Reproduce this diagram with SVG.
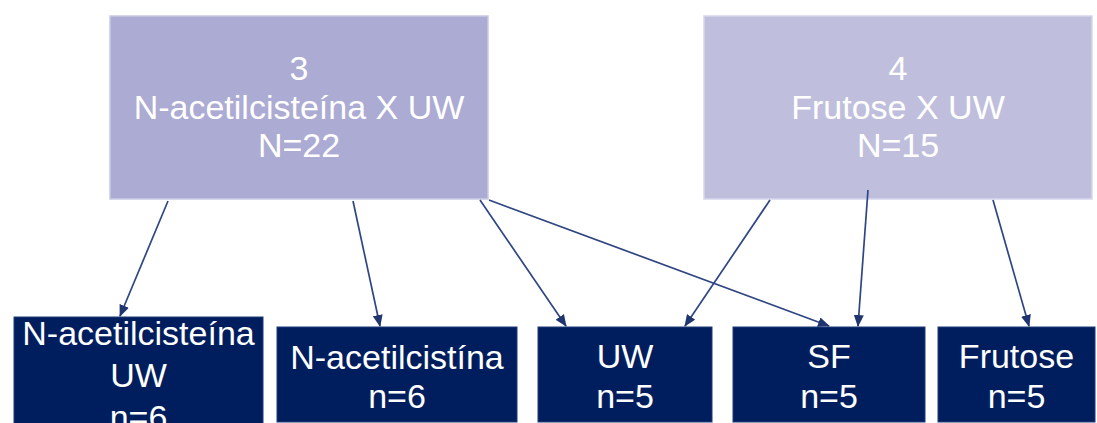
<svg xmlns="http://www.w3.org/2000/svg" width="1097" height="423" viewBox="0 0 1097 423">
<style>
.t{font-family:"Liberation Sans",Arial,sans-serif;font-size:34px;fill:#ffffff;text-anchor:middle}
.top1{fill:#ACABD3;stroke:#C9C9E4;stroke-width:1.5}
.top2{fill:#BFBFDD;stroke:#D6D6EC;stroke-width:1.5}
.bot{fill:#001E5E;stroke:#1E3A78;stroke-width:1}
.c{stroke:#2F4683;stroke-width:1.7;fill:none;marker-end:url(#ah)}
</style>
<defs>
<marker id="ah" viewBox="0 0 12 10" refX="11" refY="5" markerWidth="12" markerHeight="10" markerUnits="userSpaceOnUse" orient="auto">
<path d="M0,0 L12,5 L0,10 z" fill="#1E3570"/>
</marker>
</defs>
<rect width="1097" height="423" fill="#ffffff"/>
<g id="node-top-nac">
<rect class="top1" x="110" y="16" width="378" height="183"/>
<text class="t" x="299" y="80">3</text>
<text class="t" x="299" y="119">N-acetilcisteína X UW</text>
<text class="t" x="299" y="157">N=22</text>
</g>
<g id="node-top-frutose">
<rect class="top2" x="704" y="16" width="388" height="183"/>
<text class="t" x="898" y="80">4</text>
<text class="t" x="898" y="119">Frutose X UW</text>
<text class="t" x="898" y="157">N=15</text>
</g>
<g id="node-nac-uw">
<rect class="bot" x="14" y="317" width="249" height="120"/>
<text class="t" x="138.5" y="345">N-acetilcisteína</text>
<text class="t" x="138.5" y="387">UW</text>
<text class="t" x="138.5" y="429">n=6</text>
</g>
<g id="node-nac">
<rect class="bot" x="277" y="327" width="240" height="95"/>
<text class="t" x="397" y="369">N-acetilcistína</text>
<text class="t" x="397" y="408">n=6</text>
</g>
<g id="node-uw">
<rect class="bot" x="538" y="327" width="174" height="95"/>
<text class="t" x="625" y="368">UW</text>
<text class="t" x="625" y="408">n=5</text>
</g>
<g id="node-sf">
<rect class="bot" x="733" y="327" width="192" height="95"/>
<text class="t" x="829" y="368">SF</text>
<text class="t" x="829" y="408">n=5</text>
</g>
<g id="node-frutose">
<rect class="bot" x="938" y="327" width="157" height="95"/>
<text class="t" x="1016.5" y="368">Frutose</text>
<text class="t" x="1016.5" y="408">n=5</text>
</g>
<g id="connectors">
<line class="c" x1="168" y1="201" x2="120" y2="316"/>
<line class="c" x1="353" y1="201" x2="380" y2="326"/>
<line class="c" x1="480" y1="200" x2="566" y2="326"/>
<line class="c" x1="489" y1="200" x2="829" y2="326"/>
<line class="c" x1="770" y1="200" x2="685" y2="326"/>
<line class="c" x1="868" y1="190" x2="858" y2="326"/>
<line class="c" x1="993" y1="200" x2="1029" y2="326"/>
</g>
</svg>
